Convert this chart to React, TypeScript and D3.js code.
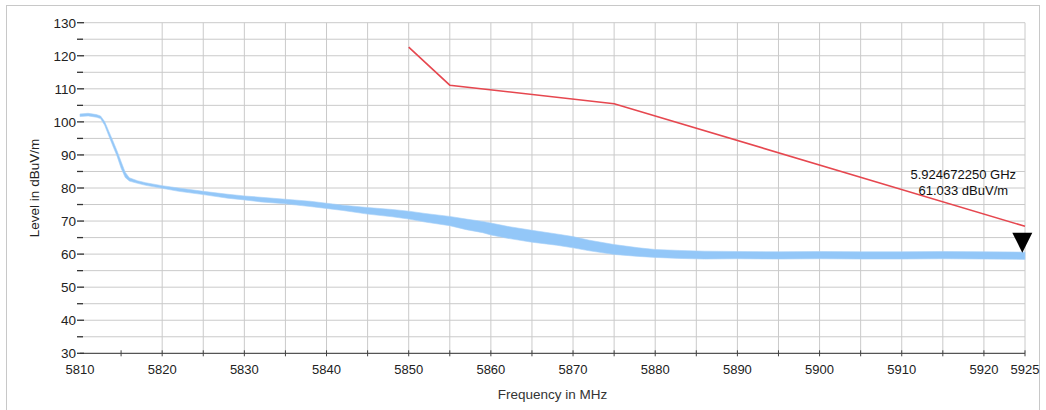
import React, { useEffect, useRef } from 'react';
import * as d3 from 'd3';

// limit line (red)
const limitFreq = [5850, 5855, 5875, 5925];
const limitLevel = [122.6, 111.1, 105.5, 68.4];

// measured trace (blue), upper / lower envelope of the noisy band
const traceFreq = [5810, 5811, 5812, 5812.5, 5813, 5813.5, 5814, 5814.5, 5815, 5815.5, 5816, 5817, 5818, 5820,
  5822, 5825, 5828, 5830, 5832, 5835, 5838, 5840, 5842, 5845, 5848, 5850, 5852, 5855, 5857, 5859, 5860,
  5862, 5865, 5868, 5870, 5872, 5875, 5878, 5880, 5883, 5886, 5890, 5895, 5900, 5905, 5910, 5915, 5920, 5925];
const traceHi = [102.4, 102.6, 102.2, 101.8, 100.1, 97.2, 94.3, 91.3, 88.0, 84.8, 83.1, 82.2, 81.6, 80.7,
  80.0, 79.0, 78.1, 77.6, 77.2, 76.6, 76.0, 75.4, 74.8, 74.1, 73.5, 73.0, 72.3, 71.4, 70.6, 69.9, 69.4,
  68.4, 67.2, 66.1, 65.3, 64.2, 62.9, 61.9, 61.4, 61.1, 60.9, 60.8, 60.7, 60.8, 60.7, 60.7, 60.8, 60.7, 60.6];
const traceLo = [101.6, 101.8, 101.4, 101.0, 99.0, 95.8, 92.7, 89.7, 86.0, 83.2, 82.1, 81.4, 80.8, 79.9,
  79.0, 78.0, 76.9, 76.4, 75.8, 75.2, 74.4, 73.8, 73.2, 72.1, 71.3, 70.6, 69.7, 68.6, 67.4, 66.5, 65.8,
  64.8, 63.6, 62.7, 61.9, 61.0, 59.9, 59.3, 59.0, 58.7, 58.5, 58.6, 58.5, 58.6, 58.5, 58.5, 58.6, 58.5, 58.4];

const xLabels = [5810, 5820, 5830, 5840, 5850, 5860, 5870, 5880, 5890, 5900, 5910, 5920, 5925];
const yLabels = [30, 40, 50, 60, 70, 80, 90, 100, 110, 120, 130];

const markerFreq = 5924.67225;
const markerLevel = 61.033;
const markerText = ['5.924672250 GHz', '61.033 dBuV/m'];

const W = 1046, H = 410;
const font = '"Liberation Sans", Arial, sans-serif';

function App() {
  const node = useRef<SVGSVGElement>(null);

  useEffect(() => {
    const svg = d3.select(node.current);
    svg.selectAll('*').remove();

    const x = d3.scaleLinear().domain([5810, 5925]).range([80, 1025]);
    const y = d3.scaleLinear().domain([30, 130]).range([353.3, 22.7]);

    // outer frame
    svg.append('rect')
      .attr('x', 6.5).attr('y', 5.5).attr('width', 1033).attr('height', 420)
      .attr('fill', 'none').attr('stroke', '#c8c8c8');

    const g = svg.append('g');

    // grid
    g.selectAll('.hgrid')
      .data(d3.range(35, 131, 5))
      .enter().append('line')
      .attr('x1', x(5810)).attr('x2', x(5925))
      .attr('y1', d => y(d)).attr('y2', d => y(d))
      .attr('stroke', '#cacaca').attr('stroke-width', 1);

    g.selectAll('.vgrid')
      .data(d3.range(5820, 5926, 5))
      .enter().append('line')
      .attr('x1', d => x(d)).attr('x2', d => x(d))
      .attr('y1', y(130)).attr('y2', y(30))
      .attr('stroke', '#cacaca').attr('stroke-width', 1);

    // x axis line + ticks
    g.append('line')
      .attr('x1', x(5810)).attr('x2', x(5925))
      .attr('y1', y(30)).attr('y2', y(30))
      .attr('stroke', '#555').attr('stroke-width', 1.2);

    g.selectAll('.xtick')
      .data(d3.range(5815, 5926, 5))
      .enter().append('line')
      .attr('x1', d => x(d)).attr('x2', d => x(d))
      .attr('y1', y(30) - 3).attr('y2', y(30) + 3)
      .attr('stroke', '#444');

    g.selectAll('.xlab')
      .data(xLabels)
      .enter().append('text')
      .attr('x', d => x(d)).attr('y', 374)
      .attr('text-anchor', 'middle')
      .attr('font-family', font).attr('font-size', 13).attr('fill', '#222')
      .text(d => d);

    // y ticks
    g.selectAll('.ytick')
      .data(d3.range(30, 131, 5))
      .enter().append('line')
      .attr('x1', 77).attr('x2', d => (d % 10 === 0 ? 84 : 83))
      .attr('y1', d => y(d)).attr('y2', d => y(d))
      .attr('stroke', '#333').attr('stroke-width', 1.3);

    g.selectAll('.ylab')
      .data(yLabels)
      .enter().append('text')
      .attr('x', 76).attr('y', d => y(d)).attr('dy', '0.36em')
      .attr('text-anchor', 'end')
      .attr('font-family', font).attr('font-size', 13.5).attr('fill', '#222')
      .text(d => d);

    // axis titles
    svg.append('text')
      .attr('x', (x(5810) + x(5925)) / 2).attr('y', 399)
      .attr('text-anchor', 'middle')
      .attr('font-family', font).attr('font-size', 13.5).attr('fill', '#333')
      .text('Frequency in MHz');

    svg.append('text')
      .attr('transform', `translate(39,${(y(30) + y(130)) / 2}) rotate(-90)`)
      .attr('text-anchor', 'middle')
      .attr('font-family', font).attr('font-size', 13.5).attr('fill', '#222')
      .text('Level in dBuV/m');

    // blue trace (noise band)
    const band = traceFreq.map((f, i) => ({ f, hi: traceHi[i], lo: traceLo[i] }));
    const area = d3.area<{ f: number; hi: number; lo: number }>()
      .x(d => x(d.f)).y0(d => y(d.lo)).y1(d => y(d.hi));
    g.append('path')
      .attr('d', area(band))
      .attr('fill', '#93c7f8')
      .attr('stroke', '#a6d0f8').attr('stroke-width', 0.6);

    // red limit
    const lim = d3.line<number>()
      .x(d => x(d)).y((d, i) => y(limitLevel[i]));
    g.append('path')
      .attr('d', lim(limitFreq))
      .attr('fill', 'none').attr('stroke', '#e6474f').attr('stroke-width', 1.6);

    // marker
    const mx = x(markerFreq), my = y(markerLevel) + 2;
    g.append('path')
      .attr('d', `M${mx},${my} L${mx - 10},${my - 20} L${mx + 10},${my - 20} Z`)
      .attr('fill', '#000');

    g.selectAll('.mtext')
      .data(markerText)
      .enter().append('text')
      .attr('x', mx - 59).attr('y', (d, i) => my - 74 + i * 16)
      .attr('text-anchor', 'middle')
      .attr('font-family', font).attr('font-size', 13).attr('fill', '#111')
      .text(d => d);
  }, []);

  return (
    <div style={{ position: 'absolute', left: 0, top: 0, width: W, height: H, background: '#fff' }}>
      <svg ref={node} width={W} height={H}></svg>
    </div>
  );
}

export default App;
